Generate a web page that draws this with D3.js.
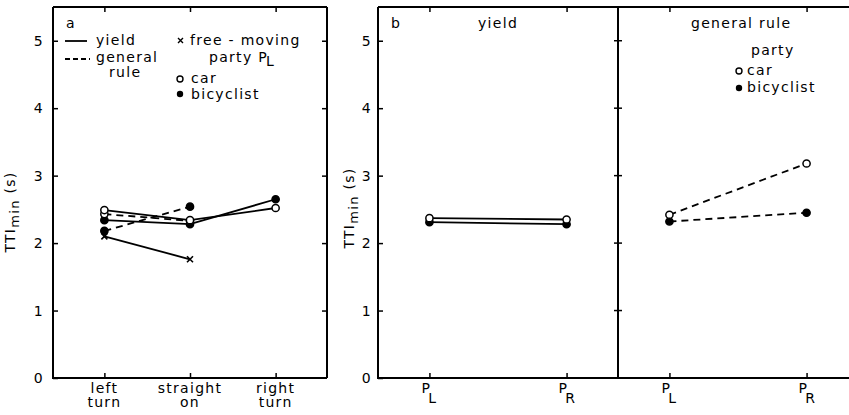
<!DOCTYPE html>
<html lang="en">
    <head>
        <meta charset="utf-8">
        <title>TTI min by manoeuvre and party</title>
        <script type="text/javascript" src="https://cdn.jsdelivr.net/npm/d3@7/dist/d3.min.js"></script>
        <style type="text/css">
            body { margin: 0; background: #fff; }
            text { font-family: "DejaVu Sans", sans-serif; font-size: 14px; letter-spacing: 1.3px; fill: #000; }
        </style>
    </head>

    <body>
        <script>
        // panel a data
        var manoeuvres = ["left turn", "straight on", "right turn"];
        var yieldCar = [2.49, 2.34, 2.52];
        var yieldBike = [2.34, 2.28, 2.65];
        var ruleCar = [2.43, 2.33, null];
        var ruleBike = [2.18, 2.54, null];
        var freeMoving = [2.10, 1.76, null];

        // panel b data
        var parties = ["PL", "PR"];
        var bYieldCar = [2.37, 2.35];
        var bYieldBike = [2.31, 2.28];
        var bRuleCar = [2.42, 3.18];
        var bRuleBike = [2.32, 2.45];

        var yTicks = [0, 1, 2, 3, 4, 5];

        const width = 849;
        const height = 415;
        var svg = d3.select("body").append("svg")
                    .attr("width", width)
                    .attr("height", height);

        var yTop = 7, yBottom = 378;
        const yScale = d3.scaleLinear().domain([0, 5.5]).range([yBottom, yTop]);

        const xA = d3.scalePoint().domain(manoeuvres).range([53, 327]).padding(0.6);
        const xB1 = d3.scalePoint().domain(parties).range([378, 618]).padding(0.375);
        const xB2 = d3.scalePoint().domain(parties).range([618, 858]).padding(0.375);

        function tidy(g) {
            g.select(".domain").remove();
            g.selectAll(".tick line").attr("stroke", "#000").attr("stroke-width", 1.5);
            g.selectAll(".tick text").attr("font-size", 14).attr("font-family", "DejaVu Sans");
        }

        function frame(x0, x1) {
            svg.append("path")
               .attr("d", `M${x0},${yTop}L${x0},${yBottom}L${x1},${yBottom}M${x0},${yTop}L${x1},${yTop}`)
               .attr("fill", "none").attr("stroke", "#000").attr("stroke-width", 2);
        }

        // inward ticks on a frame
        function leftAxis(x, pad) {
            var ax = d3.axisLeft(yScale).tickValues(yTicks).tickSize(-5).tickPadding(pad).tickFormat(d3.format("d"));
            svg.append("g").attr("transform", `translate(${x},0)`).call(ax).call(tidy);
        }
        function rightAxis(x) {
            svg.append("g").attr("transform", `translate(${x},0)`)
               .call(d3.axisRight(yScale).tickValues(yTicks.slice(1)).tickSize(-5).tickFormat("")).call(tidy);
        }
        function topBottom(scale) {
            svg.append("g").attr("transform", `translate(0,${yTop})`)
               .call(d3.axisTop(scale).tickSize(-5).tickFormat("")).call(tidy);
            svg.append("g").attr("transform", `translate(0,${yBottom})`)
               .call(d3.axisBottom(scale).tickSize(-5).tickFormat("")).call(tidy);
        }

        function series(scale, cats, vals, dashed) {
            var pts = cats.map(function(c, i) { return {x: c, v: vals[i]}; })
                          .filter(function(d) { return d.v != null; });
            var line = d3.line().x(function(d) { return scale(d.x); }).y(function(d) { return yScale(d.v); });
            svg.append("path").datum(pts)
               .attr("d", line)
               .attr("fill", "none").attr("stroke", "#000").attr("stroke-width", 1.8)
               .attr("stroke-dasharray", dashed ? "7,5" : null);
            return pts;
        }

        function markers(scale, pts, kind) {
            if (kind == "cross") {
                svg.selectAll(null).data(pts).enter().append("path")
                   .attr("d", function(d) {
                       var x = scale(d.x), y = yScale(d.v);
                       return `M${x-3},${y-3}L${x+3},${y+3}M${x-3},${y+3}L${x+3},${y-3}`;
                   })
                   .attr("stroke", "#000").attr("stroke-width", 1.6);
            } else {
                svg.selectAll(null).data(pts).enter().append("circle")
                   .attr("cx", function(d) { return scale(d.x); })
                   .attr("cy", function(d) { return yScale(d.v); })
                   .attr("r", 3.6)
                   .attr("fill", kind == "open" ? "#fff" : "#000")
                   .attr("stroke", "#000").attr("stroke-width", 1.5);
            }
        }

        function yLabel(x, y) {
            var t = svg.append("text").attr("transform", `translate(${x},${y}) rotate(-90)`)
                       .attr("text-anchor", "middle");
            t.append("tspan").text("TTI");
            t.append("tspan").attr("dy", 4).attr("font-size", 13).text("min");
            t.append("tspan").attr("dy", -4).text(" (s)");
        }

        // ---- panel a ----
        frame(53, 327);
        svg.append("line").attr("x1", 327).attr("x2", 327).attr("y1", yTop).attr("y2", yBottom)
           .attr("stroke", "#000").attr("stroke-width", 2);
        leftAxis(53, 9);
        rightAxis(327);
        topBottom(xA);
        yLabel(15, 212);

        var aCar = series(xA, manoeuvres, yieldCar, false);
        var aBike = series(xA, manoeuvres, yieldBike, false);
        var aRCar = series(xA, manoeuvres, ruleCar, true);
        var aRBike = series(xA, manoeuvres, ruleBike, true);
        var aFree = series(xA, manoeuvres, freeMoving, false);
        markers(xA, aRBike, "filled");
        markers(xA, aFree, "cross");
        markers(xA, aBike, "filled");
        markers(xA, aRCar, "open");
        markers(xA, aCar, "open");

        // category labels in two lines
        manoeuvres.forEach(function(m) {
            var words = m.split(" ");
            var t = svg.append("text").attr("text-anchor", "middle").attr("y", 393);
            t.append("tspan").attr("x", xA(m)).text(words[0]);
            t.append("tspan").attr("x", xA(m)).attr("dy", 14).text(words[1]);
        });

        // legend a
        svg.append("text").attr("x", 66).attr("y", 28).text("a");
        svg.append("line").attr("x1", 65).attr("x2", 87).attr("y1", 41).attr("y2", 41)
           .attr("stroke", "#000").attr("stroke-width", 1.8);
        svg.append("line").attr("x1", 65).attr("x2", 90).attr("y1", 59).attr("y2", 59)
           .attr("stroke", "#000").attr("stroke-width", 1.8).attr("stroke-dasharray", "5,3");
        svg.append("text").attr("x", 96).attr("y", 45).text("yield");
        svg.append("text").attr("x", 96).attr("y", 62).text("general");
        svg.append("text").attr("x", 109).attr("y", 77).text("rule");
        svg.append("path").attr("d", "M178,38L183,43M178,43L183,38").attr("stroke", "#000").attr("stroke-width", 1.4);
        svg.append("text").attr("x", 190).attr("y", 45).text("free - moving");
        var pl = svg.append("text").attr("x", 209).attr("y", 62);
        pl.append("tspan").text("party P");
        pl.append("tspan").attr("dy", 4).attr("dx", -2).text("L");
        svg.append("circle").attr("cx", 180).attr("cy", 79).attr("r", 3).attr("fill", "#fff").attr("stroke", "#000").attr("stroke-width", 1.4);
        svg.append("text").attr("x", 191).attr("y", 83).text("car");
        svg.append("circle").attr("cx", 180).attr("cy", 94).attr("r", 3.2).attr("fill", "#000");
        svg.append("text").attr("x", 191).attr("y", 99).text("bicyclist");

        // ---- panel b ----
        frame(378, 860);
        leftAxis(378, 6);
        svg.append("line").attr("x1", 618).attr("x2", 618).attr("y1", yTop).attr("y2", yBottom)
           .attr("stroke", "#000").attr("stroke-width", 2);
        svg.selectAll(null).data(yTicks.slice(1)).enter().append("line")
           .attr("x1", 614).attr("x2", 622)
           .attr("y1", function(d) { return yScale(d); })
           .attr("y2", function(d) { return yScale(d); })
           .attr("stroke", "#000").attr("stroke-width", 1.5);
        topBottom(xB1);
        topBottom(xB2);
        yLabel(354, 208);

        var b1 = series(xB1, parties, bYieldCar, false);
        var b2 = series(xB1, parties, bYieldBike, false);
        var b3 = series(xB2, parties, bRuleCar, true);
        var b4 = series(xB2, parties, bRuleBike, true);
        markers(xB1, b2, "filled");
        markers(xB1, b1, "open");
        markers(xB2, b4, "filled");
        markers(xB2, b3, "open");

        [xB1, xB2].forEach(function(sc) {
            parties.forEach(function(p) {
                var t = svg.append("text").attr("x", sc(p) - 8).attr("y", 393).attr("font-size", 15);
                t.append("tspan").text("P");
                t.append("tspan").attr("dy", 10).attr("dx", -3).text(p.slice(1));
            });
        });

        // titles and legend b
        svg.append("text").attr("x", 391).attr("y", 28).text("b");
        svg.append("text").attr("x", 478).attr("y", 28).text("yield");
        svg.append("text").attr("x", 691).attr("y", 28).text("general rule");
        svg.append("text").attr("x", 751).attr("y", 55).text("party");
        svg.append("circle").attr("cx", 739).attr("cy", 71).attr("r", 3).attr("fill", "#fff").attr("stroke", "#000").attr("stroke-width", 1.4);
        svg.append("text").attr("x", 747).attr("y", 75).text("car");
        svg.append("circle").attr("cx", 739).attr("cy", 88).attr("r", 3.2).attr("fill", "#000");
        svg.append("text").attr("x", 747).attr("y", 92).text("bicyclist");
        </script>
    </body>
</html>
